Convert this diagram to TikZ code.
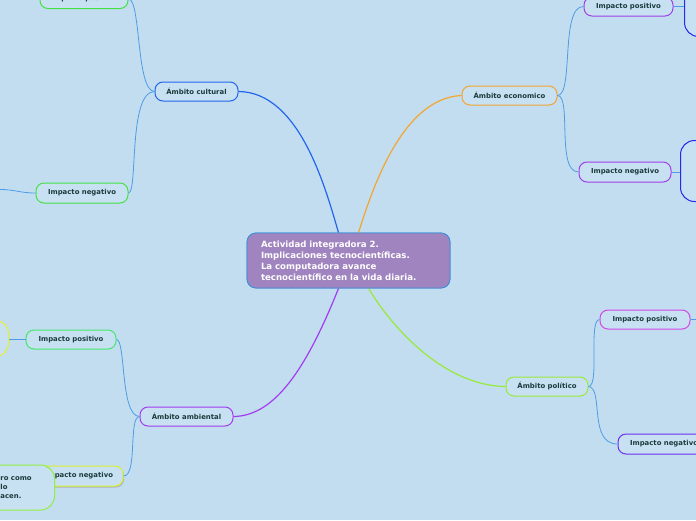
\documentclass[tikz,border=0pt]{standalone}
\usepackage{fontspec}
\setmainfont{DejaVu Sans}
\usetikzlibrary{calc,shadows}
\definecolor{bg}{HTML}{C3DDF0}
\definecolor{nfill}{HTML}{C7E1F3}
\definecolor{ntext}{HTML}{1B3B3B}
\definecolor{mainfill}{HTML}{A084C0}
\definecolor{mainline}{HTML}{3A8FD8}
\definecolor{sublink}{HTML}{4C9CE6}
\definecolor{cblue}{HTML}{2266EE}
\definecolor{corange}{HTML}{F2A530}
\definecolor{cgreen}{HTML}{98EA3A}
\definecolor{cpurple}{HTML}{A23CF0}
\definecolor{igreen}{HTML}{44E044}
\definecolor{ipurple}{HTML}{A040E8}
\definecolor{imagenta}{HTML}{D048E8}
\definecolor{iviolet}{HTML}{6A30F0}
\definecolor{imint}{HTML}{44E868}
\definecolor{iyellow}{HTML}{D8F030}
\definecolor{yell}{HTML}{E8F030}
\definecolor{lgreen}{HTML}{90F040}
\definecolor{dblue}{HTML}{2828E8}
\tikzset{
  mainbox/.style={rounded corners=9pt, fill=mainfill, draw=mainline, line width=0.8pt,
    text=white, font=\fontsize{8.6}{11}\selectfont\bfseries, align=left,
    text width=175pt, inner xsep=14pt, minimum height=55pt},
  subbox/.style={rounded corners=8pt, fill=nfill, line width=1pt, text=ntext,
    font=\fontsize{6.9}{9}\selectfont\bfseries, minimum height=19pt, inner sep=0pt},
  bigbox/.style={rounded corners=14pt, fill=nfill, line width=1pt, inner sep=0pt},
  mainlink/.style={line width=1.2pt},
  sublinkst/.style={draw=sublink, line width=0.8pt},
}
\begin{document}
\begin{tikzpicture}[x=1pt,y=-1pt]
\useasboundingbox (0,0) rectangle (696,520);
\fill[bg] (0,0) rectangle (696,520);
\clip (0,0) rectangle (696,520);

% main node
\node[mainbox] (main) at (348.5,260.5) {Actividad integradora 2.\\Implicaciones tecnocientíficas.\\La computadora avance\\tecnocientífico en la vida diaria.};

% level 1
\node[subbox, draw=cblue, minimum width=83pt] (cult) at (196.5,91.5) {Ámbito cultural};
\node[subbox, draw=corange, minimum width=95pt] (econ) at (509.5,95.5) {Ámbito economico};
\node[subbox, draw=cgreen, minimum width=82pt] (pol) at (547,386.5) {Ámbito político};
\node[subbox, draw=cpurple, minimum width=93pt] (amb) at (186.5,416.5) {Ámbito ambiental};

% level 2
\node[subbox, draw=igreen, minimum width=88pt] (ipc) at (84,-1) {Impacto positivo};
\node[subbox, draw=igreen, minimum width=92pt, minimum height=20pt] (inc) at (82,193) {Impacto negativo};
\node[subbox, draw=ipurple, minimum width=89pt] (ipe) at (628.5,6.5) {Impacto positivo};
\node[subbox, draw=ipurple, minimum width=92pt, minimum height=20pt] (ine) at (625,172) {Impacto negativo};
\node[subbox, draw=imagenta, minimum width=90pt] (ipp) at (645,319.5) {Impacto positivo};
\node[subbox, draw=iviolet, minimum width=92pt, minimum height=20pt] (inp) at (664,444) {Impacto negativo};
\node[subbox, draw=imint, minimum width=90pt] (ipa) at (71,339.5) {Impacto positivo};
\node[subbox, draw=iyellow, minimum width=88pt, minimum height=20pt,
  drop shadow={shadow xshift=1pt, shadow yshift=-1.5pt, fill=gray!70, opacity=0.7}] (ina) at (79,476) {Impacto negativo};

% level 3 (partly outside)
\node[bigbox, draw=dblue, anchor=north west, minimum width=60pt, minimum height=66pt] (rtop) at (684,-30) {};
\node[bigbox, draw=dblue, anchor=north west, minimum width=60pt, minimum height=61pt] (rneg) at (680,140) {};
\node[bigbox, draw=yell, anchor=east, minimum width=50pt, minimum height=37pt] (lpos) at (9,338.5) {};

% free ends
\coordinate (lft1) at (0,189.5);
\coordinate (lft0) at (0,-3);
\coordinate (rgt1) at (696,319.5);

% main connectors
\draw[mainlink, cblue] (cult.east) .. controls (300,92) and (326,190) .. ($(main.north)+(-10,0)$);
\draw[mainlink, corange] (econ.west) .. controls (402,98) and (372,190) .. ($(main.north)+(10,0)$);
\draw[mainlink, cgreen] ($(main.south)+(20,0)$) .. controls (400,340) and (452,386) .. (pol.west);
\draw[mainlink, cpurple] ($(main.south)+(-10,0)$) .. controls (302,380) and (270,416) .. (amb.east);

% sub connectors
\draw[sublinkst] (cult.west) .. controls (136,91) and (141,-1) .. (ipc.east);
\draw[sublinkst] (cult.west) .. controls (128,92) and (138,193) .. (inc.east);
\draw[sublinkst] (inc.west) .. controls (20,193) and (15,189.5) .. (lft1);
\draw[sublinkst] (ipc.west) -- (lft0);
\draw[sublinkst] (econ.east) .. controls (574,95) and (560,6) .. (ipe.west);
\draw[sublinkst] (econ.east) .. controls (572,96) and (556,172) .. (ine.west);
\draw[sublinkst] (ipe.east) -- (rtop.west |- ipe.east);
\draw[sublinkst] (ine.east) -- (rneg.west |- ine.east);
\draw[sublinkst] (pol.east) .. controls (600,386) and (588,320) .. (ipp.west);
\draw[sublinkst] (pol.east) .. controls (604,388) and (588,444) .. (inp.west);
\draw[sublinkst] (ipp.east) -- (rgt1);
\draw[sublinkst] (amb.west) .. controls (120,416) and (126,340) .. (ipa.east);
\draw[sublinkst] (amb.west) .. controls (128,417) and (138,476) .. (ina.east);
\draw[sublinkst] (ipa.west) -- (lpos.east |- ipa.west);

% nodes drawn over the links
\node[mainbox] at (main) {Actividad integradora 2.\\Implicaciones tecnocientíficas.\\La computadora avance\\tecnocientífico en la vida diaria.};
\node[bigbox, draw=lgreen, anchor=west, inner xsep=20pt, text width=34pt, minimum height=45pt,
  align=left, text=ntext, font=\fontsize{6.9}{9}\selectfont\bfseries] (lneg) at (-20,487.5) {ro como\\lo\\acen.};
\end{tikzpicture}
\end{document}
